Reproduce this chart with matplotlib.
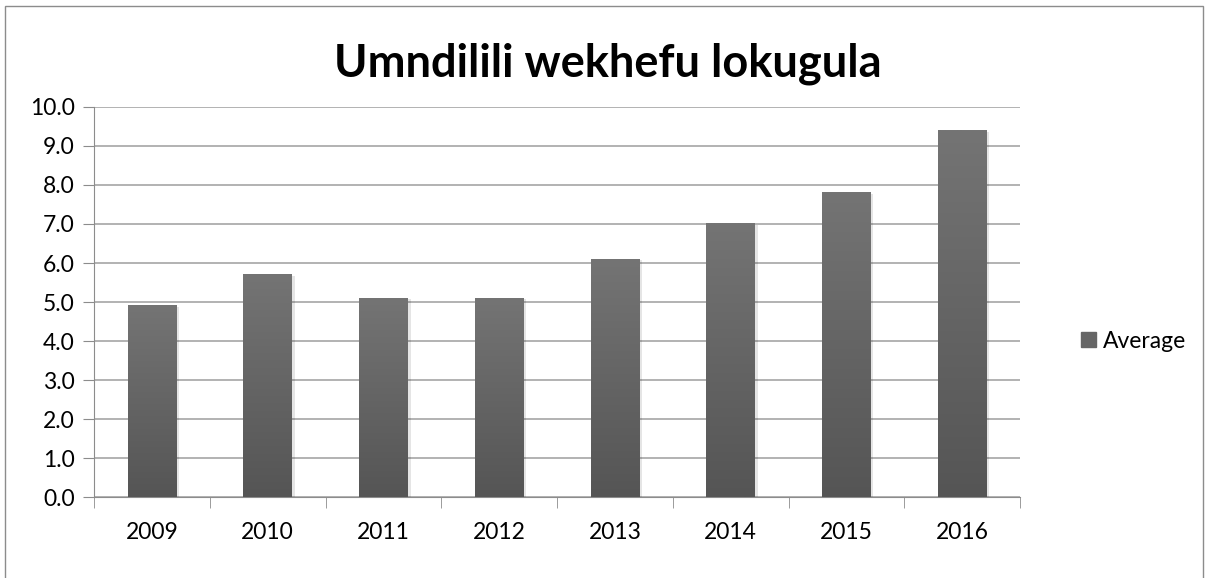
import matplotlib.pyplot as plt
import numpy as np
from matplotlib.patches import Rectangle
from matplotlib.colors import LinearSegmentedColormap
import matplotlib.patheffects as pe

plt.rcParams['font.family'] = ['Lato', 'DejaVu Sans']

years = ["2009", "2010", "2011", "2012", "2013", "2014", "2015", "2016"]
average = [4.9, 5.7, 5.1, 5.1, 6.1, 7.0, 7.8, 9.4]
yticks = np.arange(0, 10.5, 1.0)

fig = plt.figure(figsize=(12.09, 5.78), dpi=100)
ax = fig.add_axes([0.0778, 0.1401, 0.7659, 0.6748])

# outer chart border
fig.patches.append(Rectangle((0.004, -0.01), 0.991, 1.0, transform=fig.transFigure,
                             fill=False, edgecolor='#8c8c8c', linewidth=1.0))

x = np.arange(len(years))
bars = ax.bar(x, average, width=0.42, color='#666666', label='Average', zorder=3,
              path_effects=[pe.SimplePatchShadow(offset=(2, -1), shadow_rgbFace='#000000', alpha=0.1),
                            pe.Normal()])

# vertical gradient inside each bar
cmap = LinearSegmentedColormap.from_list('g', ['#555555', '#747474'])
grad = np.linspace(0, 1, 256).reshape(-1, 1)
for b in bars:
    x0, y0 = b.get_x(), b.get_y()
    ax.imshow(grad, extent=[x0, x0 + b.get_width(), y0, y0 + b.get_height()],
              origin='lower', cmap=cmap, aspect='auto', zorder=4)

ax.set_xlim(-0.5, len(years) - 0.5)
ax.set_ylim(0, 10)
ax.set_yticks(yticks)
ax.set_yticklabels([f"{v:.1f}" for v in yticks], fontsize=16.5)
ax.set_xticks(x)
ax.set_xticklabels(years, fontsize=16.5)
ax.tick_params(axis='x', length=0, pad=18)
ax.tick_params(axis='y', length=8, color='#8c8c8c', pad=6, direction='out')

# category boundary ticks
ax.set_xticks(np.arange(-0.5, len(years), 1.0), minor=True)
ax.tick_params(axis='x', which='minor', length=8, color='#8c8c8c')

ax.grid(axis='y', color='#a6a6a6', linewidth=1.2, zorder=0)
for s in ['top', 'right']:
    ax.spines[s].set_visible(False)
ax.spines['left'].set_color('#8c8c8c')
ax.spines['bottom'].set_color('#8c8c8c')

fig.text(0.503, 0.89, "Umndilili wekhefu lokugula", ha='center', va='center',
         fontsize=32.5, fontweight='bold')

leg = fig.legend(handles=[Rectangle((0, 0), 1, 1, color='#666666')], labels=['Average'],
                 loc='center left', bbox_to_anchor=(0.877, 0.41), frameon=False,
                 fontsize=16.5, handlelength=0.65, handleheight=0.65, handletextpad=0.3)

fig.savefig("out.png", dpi=100)
